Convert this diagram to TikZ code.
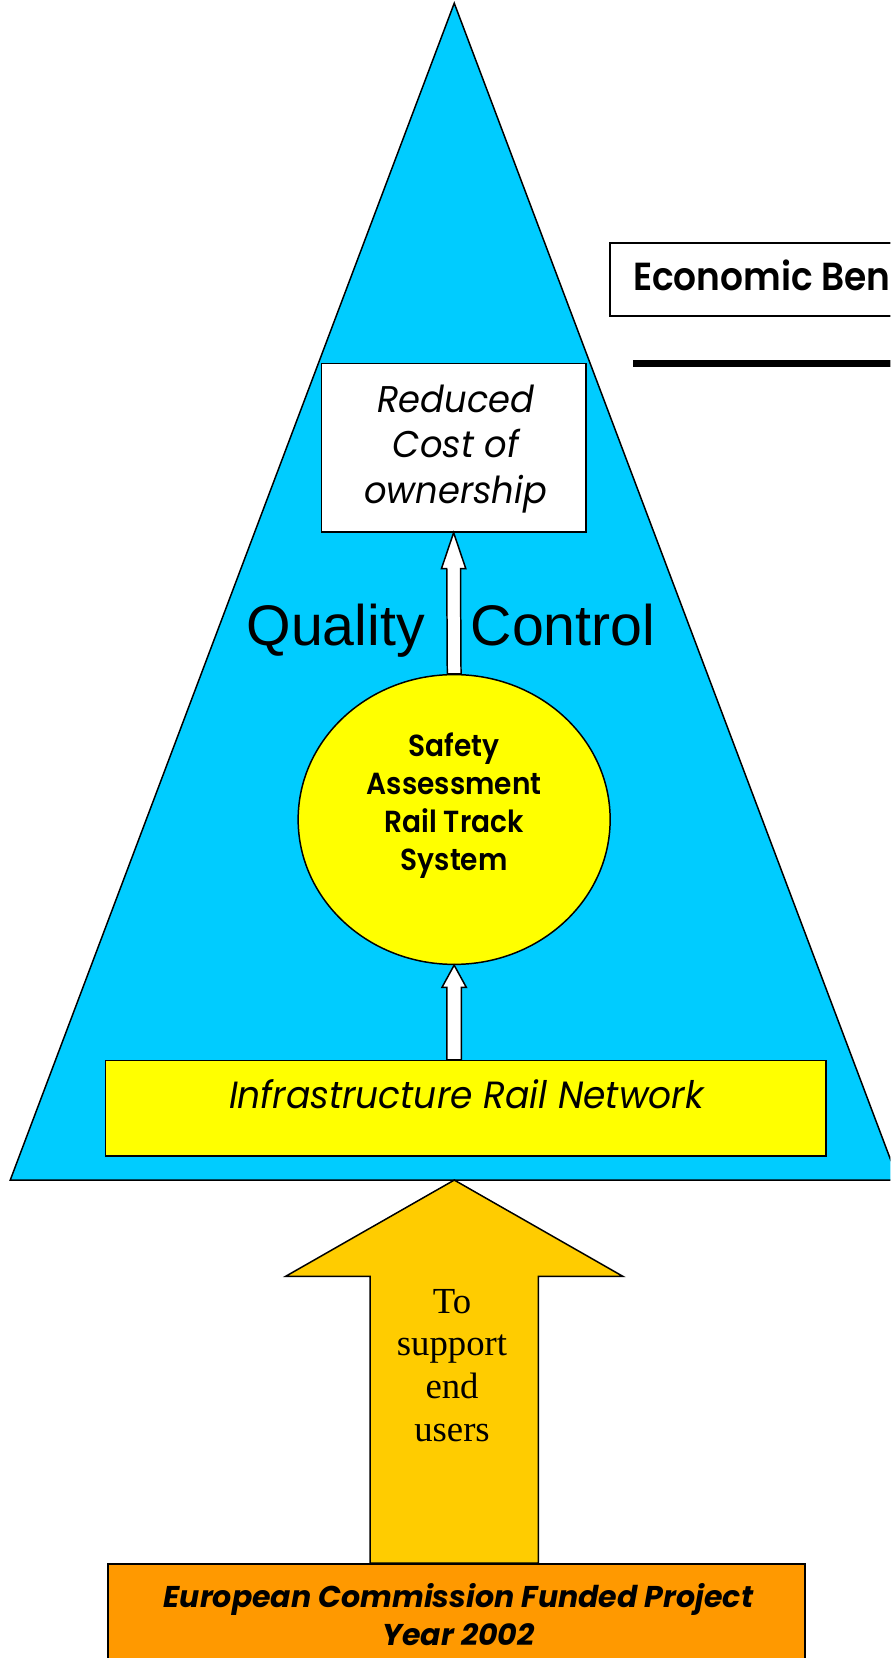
\documentclass[tikz,border=0pt]{standalone}
\usepackage{fontspec}
\setmainfont{Liberation Serif}
\newfontfamily\gothic{Poppins}
\newfontfamily\gothicmid[FakeStretch=0.92]{Poppins SemiBold}
\newfontfamily\gothicwide[FakeStretch=0.95]{Poppins}
\newfontfamily\arialfont{Liberation Sans}
\usetikzlibrary{calc}
\usetikzlibrary{positioning,shapes.geometric}

\definecolor{skyfill}{HTML}{00CCFF}
\definecolor{sunfill}{HTML}{FFFF00}
\definecolor{goldfill}{HTML}{FFCC00}
\definecolor{orangefill}{HTML}{FF9900}

% upward block arrow: style, tail, tip, half shaft, half head, head length
\newcommand{\blockarrow}[6]{%
  \draw[#1] ($(#2)+(-#4,0)$) -- ($(#3)+(-#4,#6)$) -- ($(#3)+(-#5,#6)$) -- (#3)
    -- ($(#3)+(#5,#6)$) -- ($(#3)+(#4,#6)$) -- ($(#2)+(#4,0)$) -- cycle;}

\begin{document}
\begin{tikzpicture}
[x=0.025cm,y=-0.025cm,line width=1pt,every node/.style={inner sep=0pt},
 benefitbox/.style={rectangle,draw,fill=white,minimum width=8.325cm,minimum height=1.725cm},
 costbox/.style={rectangle,draw,fill=white,minimum width=6.25cm,minimum height=3.985cm},
 assessring/.style={ellipse,draw,fill=sunfill,minimum width=7.375cm,minimum height=6.85cm},
 networkbox/.style={rectangle,draw,fill=sunfill,minimum width=17.025cm,minimum height=2.25cm},
 fundbox/.style={rectangle,draw,fill=orangefill,minimum width=16.475cm,minimum height=2.775cm},
 hollow/.style={draw,fill=white},
 goldarrow/.style={draw,fill=goldfill},
 benefittext/.style={anchor=base west,font=\gothicmid\fontsize{26.3}{30}\selectfont},
 costtext/.style={anchor=base,align=center,font=\gothicwide\itshape\fontsize{25}{30.6}\selectfont},
 qualitytext/.style={anchor=base,font=\arialfont\fontsize{38.5}{40}\selectfont},
 assesstext/.style={anchor=base,align=center,font=\gothicmid\fontsize{20.5}{25.4}\selectfont},
 networktext/.style={anchor=base,font=\gothicwide\itshape\fontsize{25.5}{30}\selectfont},
 supporttext/.style={anchor=base,align=center,font=\fontsize{24.7}{28.7}\selectfont},
 fundtext/.style={anchor=base,align=center,font=\gothic\bfseries\itshape\fontsize{20.2}{25.6}\selectfont}]

\useasboundingbox (0,0) rectangle (842,1568);
\clip (0,0) rectangle (842,1568);

% pyramid
\coordinate (apex) at (429.6,3);
\coordinate (tribase) at (429.6,1116);
\draw[fill=skyfill] (apex) -- (9.7,1116) -- (849.5,1116) -- cycle;

\node[benefitbox] (benefit) at (743.5,264.5) {};
\node[benefittext] (benefitlabel) at (598,275) {Economic Ben};
\draw[line width=5pt] (599,344) -- (900,344);

\node[costbox] (cost) at (429,423.3) {};
\node[costtext] (costlabel) at (431,476) {Reduced\\Cost of\\ownership};

\node[assessring] (safety) at (429.5,775) {};
\node[assesstext] (safetylabel) at (429.5,823) {Safety\\Assessment\\Rail Track\\System};

\node[networkbox] (network) at (440.5,1048) {};
\node[networktext] (networklabel) at (441,1048) {Infrastructure Rail Network};

\node[fundbox] (fund) at (431.5,1534.5) {};
\node[fundtext] (fundlabel) at (433.5,1556) {European Commission Funded Project\\Year 2002};

\blockarrow{hollow}{safety.north}{cost.south}{6.5}{11.5}{34}
\blockarrow{hollow}{safety.south |- network.north}{safety.south}{6.8}{11.5}{21}
\blockarrow{goldarrow}{tribase |- fund.north}{tribase}{79.5}{159.4}{91}

\node[qualitytext] (quality) at (426.5,610) {Quality\hspace{31pt}Control};
\node[supporttext] (support) at (427.5,1363) {To\\support\\end\\users};

\end{tikzpicture}
\end{document}
